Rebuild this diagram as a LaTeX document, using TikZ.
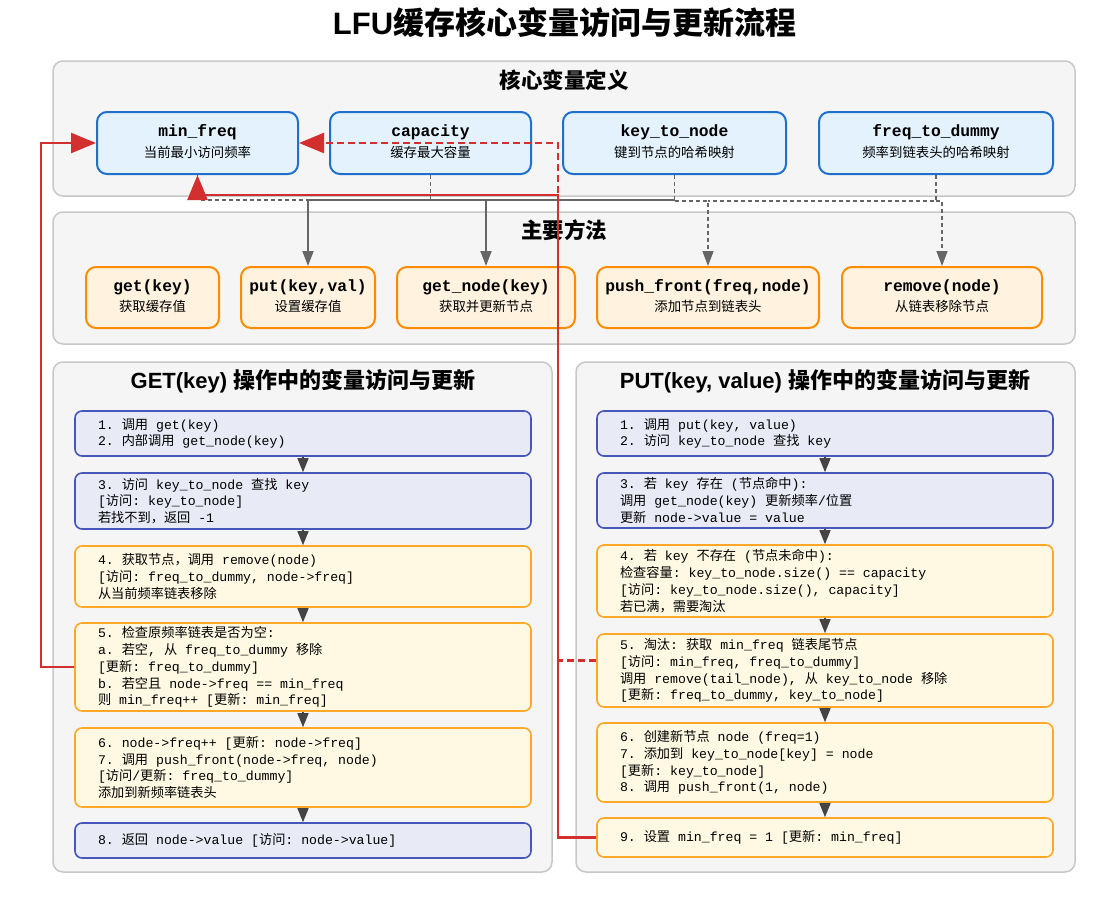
\documentclass[tikz,border=0pt]{standalone}
\usepackage{fontspec}
\setmainfont{Liberation Sans}
\setmonofont{Liberation Mono}
\newfontfamily\cjkfont{Noto Sans CJK SC}
\usetikzlibrary{arrows.meta}
\XeTeXinterchartokenstate=1
\newXeTeXintercharclass\cjkclass
\count255="4E00\relax
\loop
  \XeTeXcharclass\count255=\cjkclass
  \advance\count255 by 1\relax
\ifnum\count255<"A000\relax
\repeat
\XeTeXcharclass"FF0C=\cjkclass
\XeTeXcharclass"FF1A=\cjkclass
\XeTeXcharclass"3001=\cjkclass
\XeTeXcharclass"3002=\cjkclass
\newcommand\cjkon{\begingroup\cjkfont}
\XeTeXinterchartoks 0 \cjkclass = {\cjkon}
\XeTeXinterchartoks 4095 \cjkclass = {\cjkon}
\XeTeXinterchartoks \cjkclass 0 = {\endgroup}
\XeTeXinterchartoks \cjkclass 4095 = {\endgroup}
\newcommand\lb{[}
\newcommand\fixsp{\spaceskip=7.92pt\relax\xspaceskip=7.92pt\relax}
\definecolor{panelfill}{HTML}{F5F5F5}
\definecolor{panelborder}{HTML}{C8C8C8}
\definecolor{corefill}{HTML}{E3F2FD}
\definecolor{coreborder}{HTML}{1E70CC}
\definecolor{methfill}{HTML}{FFF3E0}
\definecolor{methborder}{HTML}{FB8C00}
\definecolor{bluefill}{HTML}{E8EAF6}
\definecolor{blueborder}{HTML}{4656BA}
\definecolor{yelfill}{HTML}{FFF9E3}
\definecolor{yelborder}{HTML}{FFA726}
\definecolor{redc}{HTML}{D32F2F}
\definecolor{darkarrow}{HTML}{444444}
\definecolor{grayline}{HTML}{666666}
\tikzset{
  panel/.style={draw=panelborder, fill=panelfill, line width=1.5pt, rounded corners=10pt, inner sep=0pt},
  corebox/.style={draw=coreborder, fill=corefill, line width=2pt, rounded corners=10pt, minimum height=62pt, inner sep=0pt},
  methbox/.style={draw=methborder, fill=methfill, line width=2pt, rounded corners=10pt, minimum height=61pt, inner sep=0pt},
  namelbl/.style={font=\ttfamily\bfseries\fontsize{16.3}{18}\selectfont, text height=10pt, text depth=3pt, inner sep=0pt},
  desclbl/.style={font=\fontsize{13.4}{16}\selectfont, text height=10.5pt, text depth=2pt, inner sep=0pt},
  secttitle/.style={font=\bfseries\fontsize{21.5}{24}\selectfont, text height=17pt, text depth=3pt, inner sep=0pt},
  optitle/.style={secttitle, font=\bfseries\fontsize{22}{24}\selectfont},
  stepbase/.style={line width=1.6pt, rounded corners=7pt, minimum width=456pt, text width=410pt, inner xsep=23pt, inner ysep=0pt, align=left, font=\ttfamily\fontsize{13.2}{16.8}\selectfont},
  bluestep/.style={stepbase, draw=blueborder, fill=bluefill},
  yelstep/.style={stepbase, draw=yelborder, fill=yelfill},
  flowarrow/.style={draw=darkarrow, line width=1.5pt, -{Triangle[length=14pt,width=11pt]}},
  redsolid/.style={draw=redc, line width=2.5pt, -{Triangle[length=25pt,width=20pt]}},
  reddash/.style={redsolid, dash pattern=on 7pt off 4pt},
  gdash/.style={draw=grayline, line width=1.5pt, dash pattern=on 4pt off 3pt},
  gsolid/.style={draw=grayline, line width=1.8pt},
  garrow/.style={-{Triangle[length=15pt,width=11pt]}}
}
\begin{document}
\begin{tikzpicture}[x=1pt,y=-1pt]
\useasboundingbox[fill=white] (0,0) rectangle (1120,902);
% title
\node[font=\bfseries\fontsize{31}{34}\selectfont, inner sep=0pt] (title) at (564.5,23) {LFU缓存核心变量访问与更新流程};
% panels
\node[panel, minimum width=1022pt, minimum height=135pt] (corepanel) at (564,128.5) {};
\node[panel, minimum width=1022pt, minimum height=132pt] (methpanel) at (564,278) {};
\node[panel, minimum width=499pt, minimum height=510pt] (getpanel) at (302.5,617) {};
\node[panel, minimum width=499pt, minimum height=510pt] (putpanel) at (825.5,617) {};
\node[secttitle] (coretitle) at (564,81) {核心变量定义};
\node[secttitle] (methtitle) at (564,231) {主要方法};
\node[optitle] (gettitle) at (303,381) {GET(key) 操作中的变量访问与更新};
\node[optitle] (puttitle) at (825,381) {PUT(key, value) 操作中的变量访问与更新};
% core variables
\node[corebox, minimum width=201pt] (minf) at (197.5,143) {};
\node[namelbl] (minf-n) at (197.5,133) {min\_freq};
\node[desclbl] (minf-d) at (197.5,153) {当前最小访问频率};
\node[corebox, minimum width=201pt] (cap) at (430.5,143) {};
\node[namelbl] (cap-n) at (430.5,133) {capacity};
\node[desclbl] (cap-d) at (430.5,153) {缓存最大容量};
\node[corebox, minimum width=223pt] (k2n) at (674.5,143) {};
\node[namelbl] (k2n-n) at (674.5,133) {key\_to\_node};
\node[desclbl] (k2n-d) at (674.5,153) {键到节点的哈希映射};
\node[corebox, minimum width=234pt] (f2d) at (936,143) {};
\node[namelbl] (f2d-n) at (936,133) {freq\_to\_dummy};
\node[desclbl] (f2d-d) at (936,153) {频率到链表头的哈希映射};
% methods
\node[methbox, minimum width=133pt] (getm) at (152.5,297.5) {};
\node[namelbl] (getm-n) at (152.5,288) {get(key)};
\node[desclbl] (getm-d) at (152.5,307.5) {获取缓存值};
\node[methbox, minimum width=134pt] (putm) at (308,297.5) {};
\node[namelbl] (putm-n) at (308,288) {put(key,val)};
\node[desclbl] (putm-d) at (308,307.5) {设置缓存值};
\node[methbox, minimum width=178pt] (getn) at (486,297.5) {};
\node[namelbl] (getn-n) at (486,288) {get\_node(key)};
\node[desclbl] (getn-d) at (486,307.5) {获取并更新节点};
\node[methbox, minimum width=222pt] (push) at (708,297.5) {};
\node[namelbl] (push-n) at (708,288) {push\_front(freq,node)};
\node[desclbl] (push-d) at (708,307.5) {添加节点到链表头};
\node[methbox, minimum width=200pt] (rem) at (942,297.5) {};
\node[namelbl] (rem-n) at (942,288) {remove(node)};
\node[desclbl] (rem-d) at (942,307.5) {从链表移除节点};
% GET steps
\node[bluestep, minimum height=45pt] (g12) at (303,433.5) {\fixsp 1. 调用 get(key)\\2. 内部调用 get\_node(key)};
\node[bluestep, minimum height=56pt] (g3) at (303,501) {\fixsp 3. 访问 key\_to\_node 查找 key\\\lb 访问: key\_to\_node]\\若找不到，返回 -1};
\node[yelstep, minimum height=61pt] (g4) at (303,576.5) {\fixsp 4. 获取节点，调用 remove(node)\\\lb 访问: freq\_to\_dummy, node->freq]\\从当前频率链表移除};
\node[yelstep, minimum height=88pt] (g5) at (303,667) {\fixsp 5. 检查原频率链表是否为空:\\a. 若空, 从 freq\_to\_dummy 移除\\\lb 更新: freq\_to\_dummy]\\b. 若空且 node->freq == min\_freq\\则 min\_freq++ [更新: min\_freq]};
\node[yelstep, minimum height=79pt] (g67) at (303,767.5) {\fixsp 6. node->freq++ [更新: node->freq]\\7. 调用 push\_front(node->freq, node)\\\lb 访问/更新: freq\_to\_dummy]\\添加到新频率链表头};
\node[bluestep, minimum height=35pt] (g8) at (303,840.5) {\fixsp 8. 返回 node->value [访问: node->value]};
% PUT steps
\node[bluestep, minimum height=45pt] (p12) at (825,433.5) {\fixsp 1. 调用 put(key, value)\\2. 访问 key\_to\_node 查找 key};
\node[bluestep, minimum height=55pt] (p3) at (825,500.5) {\fixsp 3. 若 key 存在 (节点命中):\\调用 get\_node(key) 更新频率/位置\\更新 node->value = value};
\node[yelstep, minimum height=72pt] (p4) at (825,581) {\fixsp 4. 若 key 不存在 (节点未命中):\\检查容量: key\_to\_node.size() == capacity\\\lb 访问: key\_to\_node.size(), capacity]\\若已满，需要淘汰};
\node[yelstep, minimum height=73pt] (p5) at (825,670.5) {\fixsp 5. 淘汰: 获取 min\_freq 链表尾节点\\\lb 访问: min\_freq, freq\_to\_dummy]\\调用 remove(tail\_node), 从 key\_to\_node 移除\\\lb 更新: freq\_to\_dummy, key\_to\_node]};
\node[yelstep, minimum height=79pt] (p678) at (825,762.5) {\fixsp 6. 创建新节点 node (freq=1)\\7. 添加到 key\_to\_node[key] = node\\\lb 更新: key\_to\_node]\\8. 调用 push\_front(1, node)};
\node[yelstep, minimum height=39pt] (p9) at (825,837.5) {\fixsp 9. 设置 min\_freq = 1 [更新: min\_freq]};
% gray connectors core -> methods
\coordinate (bus) at (0,200);
\coordinate (busB) at (0,201);
\draw[gdash] (minf.south) -- (minf.south |- bus) -- (putm.north |- bus);
\draw[gdash] (cap.south) -- (cap.south |- bus);
\draw[gsolid] (putm.north |- bus) -- (k2n.south |- bus);
\draw[gsolid, garrow] (putm.north |- bus) -- (putm.north);
\draw[gsolid, garrow] (getn.north |- bus) -- (getn.north);
\draw[gdash] (k2n.south) -- (k2n.south |- bus);
\draw[gdash, garrow] (k2n.south |- busB) -- (push.north |- busB) -- (push.north);
\draw[gdash] (f2d.south) -- (f2d.south |- busB) -- (push.north |- busB);
\draw[gdash, garrow] (f2d.south |- busB) -| (rem.north);
% flow arrows
\draw[flowarrow] (g12) -- (g3);
\draw[flowarrow] (g3) -- (g4);
\draw[flowarrow] (g4) -- (g5);
\draw[flowarrow] (g5) -- (g67);
\draw[flowarrow] (g67) -- (g8);
\draw[flowarrow] (p12) -- (p3);
\draw[flowarrow] (p3) -- (p4);
\draw[flowarrow] (p4) -- (p5);
\draw[flowarrow] (p5) -- (p678);
\draw[flowarrow] (p678) -- (p9);
% red connectors
\coordinate (redL) at (41,0);
\coordinate (redM) at (558,195);
\draw[redsolid] (g5.west) -- (g5.west -| redL) |- (minf.west);
\draw[redsolid] (p9.west) -- (p9.west -| redM) |- (minf.south |- redM) -- (minf.south);
\draw[reddash] ([yshift=10pt]p5.west) -- ([yshift=10pt]p5.west -| redM) |- (minf.east);
\end{tikzpicture}
\end{document}
